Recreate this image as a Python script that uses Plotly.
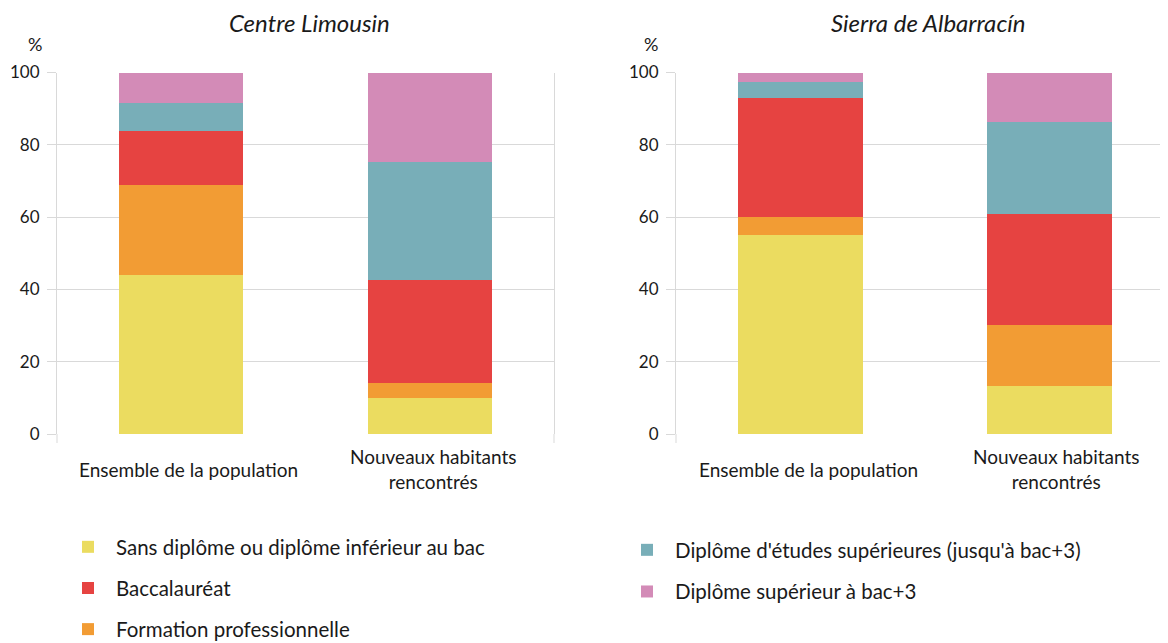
import plotly.graph_objects as go
from plotly.subplots import make_subplots

categories = ["Ensemble de la population", "Nouveaux habitants<br>rencontrés"]
regions = ["Centre Limousin", "Sierra de Albarracín"]

series_names = [
    "Sans diplôme ou diplôme inférieur au bac",
    "Formation professionnelle",
    "Baccalauréat",
    "Diplôme d'études supérieures (jusqu'à bac+3)",
    "Diplôme supérieur à bac+3",
]
colors = ["#EBDC60", "#F29C34", "#E64341", "#78AEB8", "#D38BB7"]

# values per region: [Ensemble, Nouveaux]
limousin_sans = [44.0, 10.0]
limousin_formation = [24.9, 4.0]
limousin_bac = [14.8, 28.6]
limousin_sup3 = [8.0, 32.7]
limousin_supplus = [8.3, 24.7]

albarracin_sans = [55.1, 13.4]
albarracin_formation = [4.9, 16.8]
albarracin_bac = [32.9, 30.6]
albarracin_sup3 = [4.6, 25.6]
albarracin_supplus = [2.5, 13.6]

limousin = [limousin_sans, limousin_formation, limousin_bac, limousin_sup3, limousin_supplus]
albarracin = [albarracin_sans, albarracin_formation, albarracin_bac, albarracin_sup3, albarracin_supplus]

legend_assign = ["legend", "legend", "legend", "legend2", "legend2"]
legend_rank = [1, 3, 2, 4, 5]

FONT = "Lato"
TXT = "#1a1a1a"
GRID = "#d9d9d9"

# The page has an 8px body margin: figure origin sits at (8, 8) in the window.
OFF = 8
W, H = 1168 - OFF, 643 - OFF


def px(X):
    return (X - OFF) / W


def py(Y):
    return 1 - (Y - OFF) / H


fig = make_subplots(rows=1, cols=2)

for i, name in enumerate(series_names):
    fig.add_trace(go.Bar(x=[0, 1], y=limousin[i], name=name, marker_color=colors[i],
                         marker_line_width=0, width=0.5, legend=legend_assign[i],
                         legendrank=legend_rank[i], legendgroup=name, showlegend=True),
                  row=1, col=1)
    fig.add_trace(go.Bar(x=[0, 1], y=albarracin[i], name=name, marker_color=colors[i],
                         marker_line_width=0, width=0.5, legend=legend_assign[i],
                         legendgroup=name, showlegend=False),
                  row=1, col=2)

y_dom = [py(434), py(72.5)]

axis_common = dict(showgrid=False, zeroline=False, showline=False, ticks="",
                   tickmode="array", tickvals=[0, 1], showticklabels=False, automargin=False)
fig.update_layout(
    xaxis=dict(domain=[px(57), px(554)], range=[-0.5, 1.5], **axis_common),
    xaxis2=dict(domain=[px(676), 1.0], range=[-0.5, 1.476], **axis_common),
)
yaxis_common = dict(range=[0, 100], tickvals=[0, 20, 40, 60, 80, 100], showgrid=True,
                    gridcolor=GRID, gridwidth=1, zeroline=False, showline=True,
                    linecolor=GRID, linewidth=1, ticks="outside", ticklen=9,
                    tickcolor=GRID, tickfont=dict(family=FONT, size=17, color=TXT),
                    ticklabelstandoff=4, automargin=False)
fig.update_layout(
    yaxis=dict(domain=y_dom, mirror=True, **yaxis_common),
    yaxis2=dict(domain=y_dom, **yaxis_common),
)

fig.update_layout(
    width=W, height=H, barmode="stack",
    margin=dict(l=0, r=0, t=0, b=0, autoexpand=False),
    paper_bgcolor="white", plot_bgcolor="white",
    font=dict(family=FONT, color=TXT),
    legend=dict(x=px(60), y=py(527), xanchor="left", yanchor="top",
                font=dict(family=FONT, size=20.5, color=TXT), tracegroupgap=11.5,
                traceorder="grouped", bgcolor="rgba(0,0,0,0)", itemwidth=46),
    legend2=dict(x=px(619), y=py(530), xanchor="left", yanchor="top",
                 font=dict(family=FONT, size=20.5, color=TXT), tracegroupgap=12,
                 traceorder="grouped", bgcolor="rgba(0,0,0,0)", itemwidth=46),
    bargap=0.5,
)

annotations = [
    dict(text="<i>Centre Limousin</i>", x=px(309), y=py(22), xref="paper", yref="paper",
         showarrow=False, font=dict(family=FONT, size=24, color=TXT), xanchor="center", yanchor="middle"),
    dict(text="<i>Sierra de Albarracín</i>", x=px(928), y=py(22), xref="paper", yref="paper",
         showarrow=False, font=dict(family=FONT, size=24, color=TXT), xanchor="center", yanchor="middle"),
    dict(text="%", x=px(35), y=py(44), xref="paper", yref="paper", showarrow=False,
         font=dict(family=FONT, size=18, color=TXT), xanchor="center", yanchor="middle"),
    dict(text="%", x=px(651), y=py(44), xref="paper", yref="paper", showarrow=False,
         font=dict(family=FONT, size=18, color=TXT), xanchor="center", yanchor="middle"),
]
label_shift = {"x": [7, 4], "x2": [8, 7]}
for xr in ["x", "x2"]:
    for ci, cat in enumerate(categories):
        annotations.append(dict(text=cat, x=ci, xref=xr, y=py(469), yref="paper",
                                showarrow=False, xanchor="center", yanchor="middle",
                                xshift=label_shift[xr][ci],
                                font=dict(family=FONT, size=19, color=TXT)))
fig.update_layout(annotations=annotations)

shapes = []
for xd, yd in [("x domain", "y domain"), ("x2 domain", "y2 domain")]:
    shapes.append(dict(type="line", xref=xd, yref=yd, x0=0, x1=0, y0=0, y1=-0.025,
                       line=dict(color=GRID, width=1)))
shapes.append(dict(type="line", xref="x domain", yref="y domain", x0=1, x1=1, y0=0, y1=-0.025,
                   line=dict(color=GRID, width=1)))
fig.update_layout(shapes=shapes)

fig.write_html("out.html")
